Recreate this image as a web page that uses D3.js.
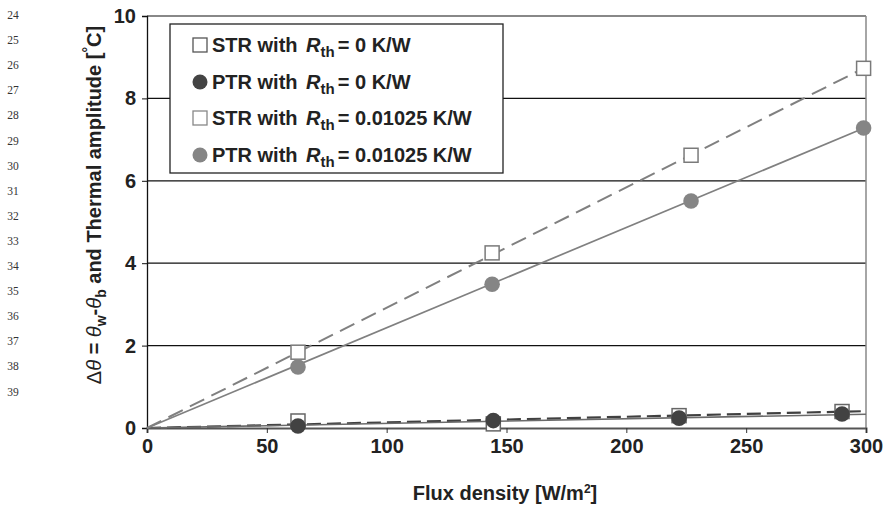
<!DOCTYPE html>
<html><head><meta charset="utf-8">
<script src="https://cdn.jsdelivr.net/npm/d3@7"></script>
<style>body{margin:0;background:#fff}svg{display:block}</style>
</head><body><svg id="c" width="884" height="505"></svg>
<script>
// ---- data ----
const xTicks = [0, 50, 100, 150, 200, 250, 300];
const yTicks = [0, 2, 4, 6, 8, 10];
const lineNumbers = [24,25,26,27,28,29,30,31,32,33,34,35,36,37,38,39];
const seriesNames = ["STR with ", "PTR with ", "STR with ", "PTR with "];
const seriesRth = ["0 K/W", "0 K/W", "0.01025 K/W", "0.01025 K/W"];
const str0X = [63, 144.5, 222, 290];
const str0Y = [0.17, 0.10, 0.30, 0.40];
const ptr0X = [63, 144.5, 222, 290];
const ptr0Y = [0.05, 0.18, 0.24, 0.34];
const str1X = [63, 144, 227, 299];
const str1Y = [1.84, 4.25, 6.62, 8.73];
const ptr1X = [63, 144, 227, 299];
const ptr1Y = [1.48, 3.49, 5.51, 7.28];
// trend lines through origin: value reached at flux = 300
const trendAt300 = [0.41, 0.335, 8.76, 7.30];

const svg = d3.select("#c");
const L = 147, R = 866, T = 16, B = 428;
const x = d3.scaleLinear().domain([0, 300]).range([L, R]);
const y = d3.scaleLinear().domain([0, 10]).range([B, T]);
const bold = "'Liberation Sans', Arial, sans-serif";

// line numbers on margin
svg.append("g").selectAll("text").data(lineNumbers).join("text")
  .attr("x", 13).attr("y", (d, i) => 15 + i * 25.1).attr("dy", "0.35em")
  .attr("text-anchor", "middle").attr("font-family", "'Liberation Serif', serif")
  .attr("font-size", 11.5).attr("fill", "#333").text(d => d);

// gridlines
svg.append("g").selectAll("line").data(yTicks.filter(d => d > 0 && d < 10)).join("line")
  .attr("x1", L).attr("x2", R).attr("y1", d => y(d)).attr("y2", d => y(d))
  .attr("stroke", "#111").attr("stroke-width", 1.3);
// top & right borders
svg.append("line").attr("x1", L).attr("x2", R).attr("y1", y(10)).attr("y2", y(10))
  .attr("stroke", "#888").attr("stroke-width", 2);
svg.append("line").attr("x1", R).attr("x2", R).attr("y1", T).attr("y2", B)
  .attr("stroke", "#888").attr("stroke-width", 1.5);

// axes
const yAxis = svg.append("g").attr("transform", `translate(${L},0)`)
  .call(d3.axisLeft(y).tickValues(yTicks).tickSize(5).tickPadding(6));
yAxis.select(".domain").attr("stroke", "#111").attr("stroke-width", 1.3);
yAxis.selectAll(".tick line").attr("stroke", "#111");
yAxis.selectAll("text").attr("font-family", bold).attr("font-weight", "bold")
  .attr("font-size", 20).attr("fill", "#222");

const xAxis = svg.append("g").attr("transform", `translate(0,${B})`)
  .call(d3.axisBottom(x).tickValues(xTicks).tickSize(5).tickPadding(6));
xAxis.select(".domain").attr("stroke", "#555").attr("stroke-width", 2);
xAxis.selectAll(".tick line").attr("stroke", "#333");
xAxis.selectAll("text").attr("font-family", bold).attr("font-weight", "bold")
  .attr("font-size", 20).attr("fill", "#222");

// trend lines
const trendStyles = [
  {c: "#404040", w: 2.2, dash: "14,6"},
  {c: "#6a6a6a", w: 1.6, dash: null},
  {c: "#808080", w: 2, dash: "16,8"},
  {c: "#808080", w: 1.7, dash: null}
];
const gl = svg.append("g");
trendAt300.forEach((v, i) => {
  const ln = gl.append("line").attr("x1", x(0)).attr("y1", y(0))
    .attr("x2", x(300)).attr("y2", y(v))
    .attr("stroke", trendStyles[i].c).attr("stroke-width", trendStyles[i].w);
  if (trendStyles[i].dash) ln.attr("stroke-dasharray", trendStyles[i].dash);
});

// markers
function squares(xs, ys, stroke, size) {
  svg.append("g").selectAll("rect").data(xs).join("rect")
    .attr("x", (d) => x(d) - size / 2).attr("y", (d, i) => y(ys[i]) - size / 2)
    .attr("width", size).attr("height", size)
    .attr("fill", "#fff").attr("stroke", stroke).attr("stroke-width", 1.5);
}
function circles(xs, ys, fill, r) {
  svg.append("g").selectAll("circle").data(xs).join("circle")
    .attr("cx", d => x(d)).attr("cy", (d, i) => y(ys[i])).attr("r", r).attr("fill", fill);
}
squares(str1X, str1Y, "#7a7a7a", 14);
circles(ptr1X, ptr1Y, "#858585", 7.8);
squares(str0X, str0Y, "#666", 14);
circles(ptr0X, ptr0Y, "#424242", 7.8);

// legend
const lg = svg.append("g");
lg.append("rect").attr("x", 170).attr("y", 24).attr("width", 333).attr("height", 149)
  .attr("fill", "#fff").attr("stroke", "#222").attr("stroke-width", 1.3);
const rowY = [45, 82, 118, 155];
const legendMarker = [
  {t: "sq", c: "#555"}, {t: "ci", c: "#444"}, {t: "sq", c: "#888"}, {t: "ci", c: "#858585"}
];
seriesNames.forEach((name, i) => {
  const m = legendMarker[i];
  if (m.t === "sq") {
    lg.append("rect").attr("x", 193).attr("y", rowY[i] - 7).attr("width", 14).attr("height", 14)
      .attr("fill", "#fff").attr("stroke", m.c).attr("stroke-width", 1.3);
  } else {
    lg.append("circle").attr("cx", 200).attr("cy", rowY[i]).attr("r", 7.5).attr("fill", m.c);
  }
  const t = lg.append("text").attr("x", 212).attr("y", rowY[i] + 7)
    .attr("font-family", bold).attr("font-weight", "bold").attr("font-size", 20).attr("fill", "#222");
  t.append("tspan").text(name);
  t.append("tspan").attr("font-style", "italic").attr("dx", 3).text("R");
  t.append("tspan").attr("font-size", 15).attr("dy", 5).text("th");
  t.append("tspan").attr("dy", -5).attr("dx", 3).text("= " + seriesRth[i]);
});

// axis titles
const xt = svg.append("text").attr("x", 505).attr("y", 500).attr("text-anchor", "middle")
  .attr("font-family", bold).attr("font-weight", "bold").attr("font-size", 20).attr("fill", "#222");
xt.append("tspan").text("Flux density [W/m");
xt.append("tspan").attr("font-size", 12).attr("dy", -7).text("2");
xt.append("tspan").attr("dy", 7).text("]");

const yt = svg.append("text").attr("transform", "translate(101,205) rotate(-90)")
  .attr("text-anchor", "middle").attr("font-family", bold).attr("font-weight", "bold")
  .attr("font-size", 20).attr("fill", "#222");
yt.append("tspan").attr("font-weight", "normal").text("Δ");
yt.append("tspan").attr("font-weight", "normal").attr("font-style", "italic").text("θ");
yt.append("tspan").text(" = ");
yt.append("tspan").attr("font-weight", "normal").attr("font-style", "italic").text("θ");
yt.append("tspan").attr("font-size", 14).attr("dy", 5).text("w");
yt.append("tspan").attr("dy", -5).text("-");
yt.append("tspan").attr("font-weight", "normal").attr("font-style", "italic").text("θ");
yt.append("tspan").attr("font-size", 14).attr("dy", 5).text("b");
yt.append("tspan").attr("dy", -5).text(" and Thermal amplitude [");
yt.append("tspan").attr("font-size", 14).attr("dy", -8).text("°");
yt.append("tspan").attr("dy", 8).text("C]");
</script></body></html>
